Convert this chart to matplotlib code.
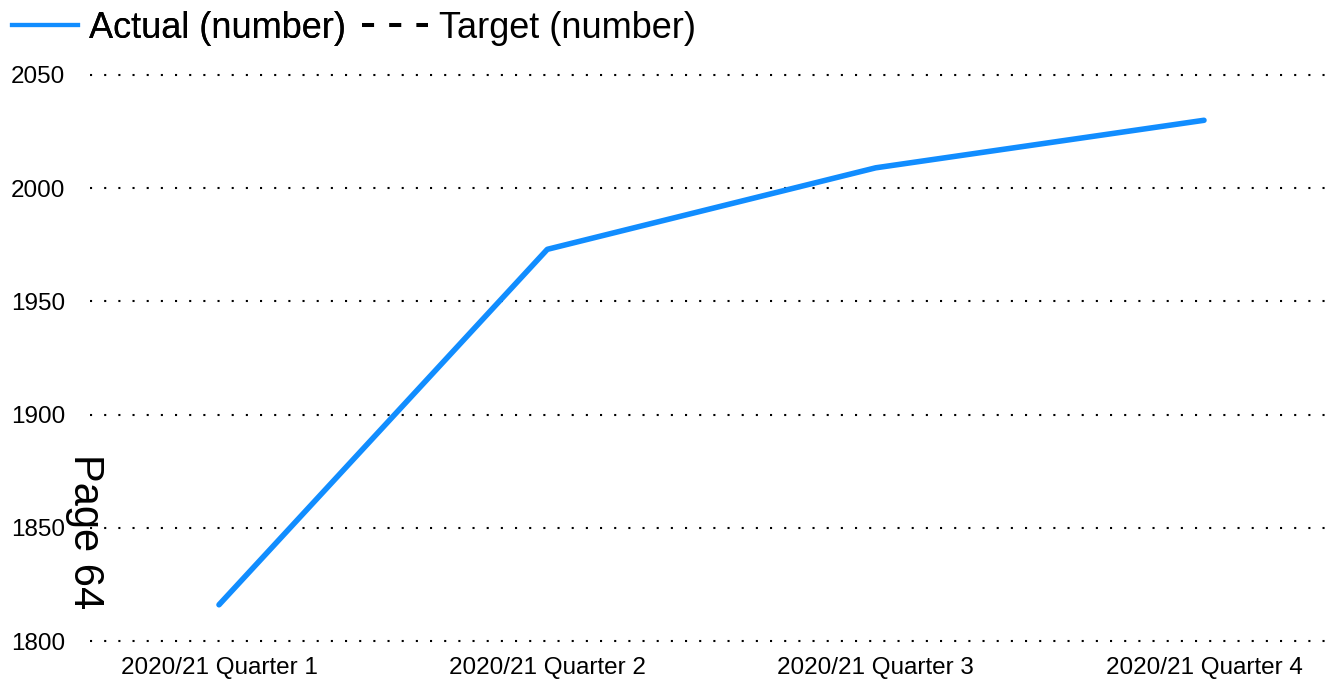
import numpy as np
import matplotlib.pyplot as plt
from matplotlib.lines import Line2D

quarters = ['2020/21 Quarter 1', '2020/21 Quarter 2', '2020/21 Quarter 3', '2020/21 Quarter 4']
actual = [1816, 1973, 2009, 2030]
target = [np.nan, np.nan, np.nan, np.nan]   # no target values shown
y_ticks = [1800, 1850, 1900, 1950, 2000, 2050]

plt.rcParams['font.family'] = ['Liberation Sans', 'DejaVu Sans']

W, H = 1330, 687
fig = plt.figure(figsize=(W / 100, H / 100), dpi=100)

# axes box in pixels (left, right, top, bottom), padded slightly past the grid
px_per = 566 / 250.0
pad = 2
left, right = 90, 1325
top, bottom = 75 - pad * px_per, 641 + pad * px_per
ax = fig.add_axes([left / W, 1 - bottom / H, (right - left) / W, (bottom - top) / H])

x = np.arange(len(quarters))
ax.plot(x, actual, color='#118DFF', lw=4.0, solid_capstyle='round', zorder=3)
ax.plot(x, target, color='black', lw=2, ls='--')

ax.set_xlim((90 - 219) / 328.33, (1325 - 219) / 328.33)
ax.set_ylim(1800 - pad, 2050 + pad)
ax.set_xticks(x)
ax.set_xticklabels(quarters)
ax.set_yticks(y_ticks)

for v in y_ticks:
    ax.axhline(v, color='black', lw=1.5, ls=(0, (1, 5.8)), zorder=1)

for s in ax.spines.values():
    s.set_visible(False)
ax.tick_params(axis='both', length=0, labelsize=17.5, colors='black')
ax.tick_params(axis='y', pad=18)
ax.tick_params(axis='x', pad=8)

# legend: two pieces so each handle can have its own length
leg_y = 1.016
leg1 = fig.legend([Line2D([], [], color='#118DFF', lw=3)], ['Actual (number)'],
                  loc='upper left', bbox_to_anchor=(-10 / W, leg_y), frameon=False,
                  fontsize=26, handlelength=1.85, handletextpad=0.3, borderaxespad=0.2)
fig.legend([Line2D([], [], color='black', lw=2.9, ls=(0, (3, 3.75)))], ['Target (number)'],
           loc='upper left', bbox_to_anchor=(340 / W, leg_y), frameon=False,
           fontsize=26, handlelength=1.85, handletextpad=0.3, borderaxespad=0.2)
fig.add_artist(leg1)

fig.text(85 / W, 1 - 532 / H, 'Page 64', rotation=270, fontsize=30,
         ha='center', va='center')

fig.savefig('out.png', dpi=100)
